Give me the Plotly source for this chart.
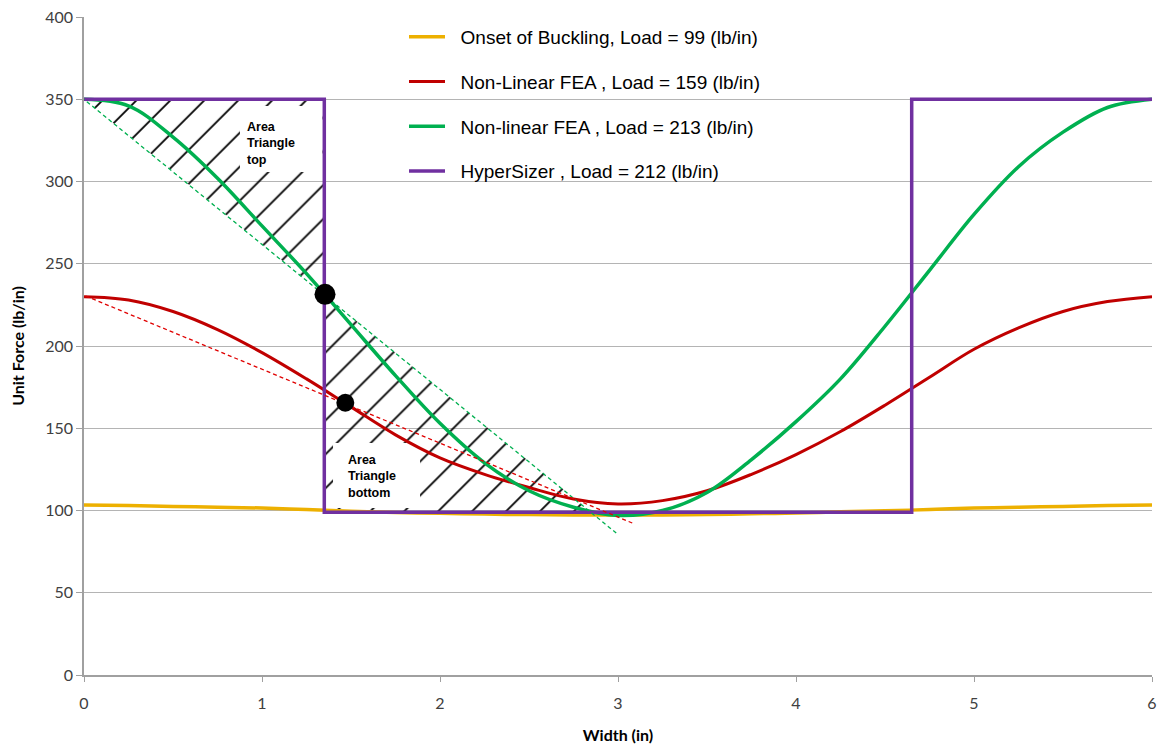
import plotly.graph_objects as go

# ---- data ----
x_curve = [0, 0.25, 0.5, 0.75, 1.0, 1.25, 1.5, 1.75, 2.0, 2.25, 2.5, 2.75, 3.0,
           3.25, 3.5, 3.75, 4.0, 4.25, 4.5, 4.75, 5.0, 5.25, 5.5, 5.75, 6.0]

onset_y = [103.3, 103.0, 102.5, 102.0, 101.5, 100.6, 99.5, 98.8, 98.3, 97.8, 97.5, 97.3, 97.3,
           97.3, 97.5, 98.0, 98.5, 99.2, 99.8, 100.6, 101.5, 102.0, 102.5, 103.0, 103.3]

red_y = [230, 228, 221, 210, 196, 180, 163, 146, 132, 122, 114, 107, 104,
         106, 112, 122, 134, 148, 164, 181, 198, 211, 221, 227, 230]

green_y = [350, 346, 327, 302, 273, 244, 213, 182, 153, 129, 112, 102, 97,
           100, 111, 131, 154, 180, 212, 246, 280, 309, 330, 345, 350]

hs_x = [0, 1.35, 1.35, 4.65, 4.65, 6]
hs_y = [350, 350, 99, 99, 350, 350]

green_tan_x = [-0.045, 2.99]
green_tan_y = [353.9, 86.3]
red_tan_x = [-0.10, 3.08]
red_tan_y = [235.3, 92.4]

dots_x = [1.354, 1.468]
dots_y = [231.4, 165.5]
dots_size = [21, 18]

top_tri_x = [0, 1.35, 1.35, 0]
top_tri_y = [350, 350, 231.1, 350]
bot_tri_x = [1.35, 1.35, 2.85, 1.35]
bot_tri_y = [231.1, 99, 99, 231.1]

# label boxes (white background behind the "Area Triangle" labels)
top_box_x = [0.876, 1.34, 1.34, 0.876, 0.876]
top_box_y = [345.9, 345.9, 305.8, 305.8, 345.9]
bot_box_x = [1.399, 1.888, 1.888, 1.399, 1.399]
bot_box_y = [141.0, 141.0, 101.5, 101.5, 141.0]

names = ["Onset of Buckling, Load = 99 (lb/in)",
         "Non-Linear FEA , Load = 159 (lb/in)",
         "Non-linear FEA , Load = 213 (lb/in)",
         "HyperSizer , Load = 212 (lb/in)"]

x_ticks = [0, 1, 2, 3, 4, 5, 6]
y_ticks = [0, 50, 100, 150, 200, 250, 300, 350, 400]

fig = go.Figure()

hatch = dict(shape="/", size=24, solidity=0.075, fgcolor="black", fgopacity=1,
             bgcolor="rgba(0,0,0,0)")
for tx, ty in [(top_tri_x, top_tri_y), (bot_tri_x, bot_tri_y)]:
    fig.add_trace(go.Scatter(x=tx, y=ty, mode="lines", fill="toself",
                             fillcolor="rgba(0,0,0,0)", fillpattern=hatch,
                             line=dict(width=0, color="rgba(0,0,0,0)"), opacity=1,
                             showlegend=False, hoverinfo="skip"))
for bx, by in [(top_box_x, top_box_y), (bot_box_x, bot_box_y)]:
    fig.add_trace(go.Scatter(x=bx, y=by, mode="lines", fill="toself",
                             fillcolor="white", line=dict(width=0, color="white"),
                             showlegend=False, hoverinfo="skip"))

pad = "\u00a0\u00a0"
fig.add_trace(go.Scatter(x=x_curve, y=onset_y, mode="lines", name=pad + names[0],
                         line=dict(color="#EDB000", width=3.5, shape="spline"),
                         legendgroup="a"))
fig.add_trace(go.Scatter(x=x_curve, y=red_y, mode="lines", name=pad + names[1],
                         line=dict(color="#C00000", width=3, shape="spline"),
                         legendgroup="b"))
fig.add_trace(go.Scatter(x=x_curve, y=green_y, mode="lines", name=pad + names[2],
                         line=dict(color="#00B050", width=3.5, shape="spline"),
                         legendgroup="c"))
fig.add_trace(go.Scatter(x=hs_x, y=hs_y, mode="lines", name=pad + names[3],
                         line=dict(color="#7030A0", width=3.5),
                         legendgroup="d"))

fig.add_trace(go.Scatter(x=green_tan_x, y=green_tan_y, mode="lines",
                         line=dict(color="#00B050", width=1.3, dash="4px,3px"),
                         showlegend=False, hoverinfo="skip"))
fig.add_trace(go.Scatter(x=red_tan_x, y=red_tan_y, mode="lines",
                         line=dict(color="#E00000", width=1.3, dash="4px,3px"),
                         showlegend=False, hoverinfo="skip"))
fig.add_trace(go.Scatter(x=dots_x, y=dots_y, mode="markers",
                         marker=dict(color="black", size=dots_size, opacity=1,
                                     line=dict(width=0)),
                         showlegend=False, hoverinfo="skip"))

ann_font = dict(family="Liberation Sans", size=12.5, color="black")
fig.add_annotation(x=0.908, y=338.0, xref="x", yref="y", xanchor="left", yanchor="top",
                   text="<b>Area<br>Triangle<br>top</b>", showarrow=False, align="left",
                   borderpad=0, font=ann_font)
fig.add_annotation(x=1.475, y=135.6, xref="x", yref="y", xanchor="left", yanchor="top",
                   text="<b>Area<br>Triangle<br>bottom</b>", showarrow=False, align="left",
                   borderpad=0, font=ann_font)

# white panel behind legend text (hides gridlines like the reference)
fig.add_shape(type="rect", xref="paper", yref="paper", layer="below",
              x0=(445 - 84) / 1068, x1=(890 - 84) / 1068,
              y0=(675 - 186) / 658, y1=(675 - 20) / 658,
              fillcolor="white", line=dict(width=0))

axis_font = dict(family="Lato", size=16, color="#404040")
title_font = dict(family="Lato", size=16, color="black")
fig.update_layout(
    width=1160, height=749,
    margin=dict(l=84, r=8, t=17, b=74, autoexpand=False),
    paper_bgcolor="white", plot_bgcolor="white",
    showlegend=True,
    legend=dict(x=(404 - 84) / 1068, y=(675 - 18) / 658, xanchor="left", yanchor="top",
                bgcolor="rgba(0,0,0,0)", font=dict(family="Liberation Sans", size=19, color="black"),
                tracegroupgap=17, traceorder="grouped", itemwidth=36),
    xaxis=dict(range=[0, 6], tickvals=x_ticks, ticks="outside", ticklen=5,
               tickcolor="#A0A0A0", showgrid=False, showline=True, linecolor="#A0A0A0",
               linewidth=1.5, zeroline=False, tickfont=axis_font, ticklabelstandoff=8,
               automargin=False,
               title=dict(text="<b>Width (in)</b>", font=title_font, standoff=19)),
    yaxis=dict(range=[0, 400], tickvals=y_ticks, ticks="outside", ticklen=6,
               tickcolor="#A0A0A0", showgrid=True, gridcolor="#B4B4B4", gridwidth=1,
               showline=True, linecolor="#A0A0A0", linewidth=1.5, zeroline=False,
               tickfont=axis_font, automargin=False,
               title=dict(text="<b>Unit Force (lb/in)</b>", font=title_font, standoff=17)),
)

fig.write_html("out.html")
